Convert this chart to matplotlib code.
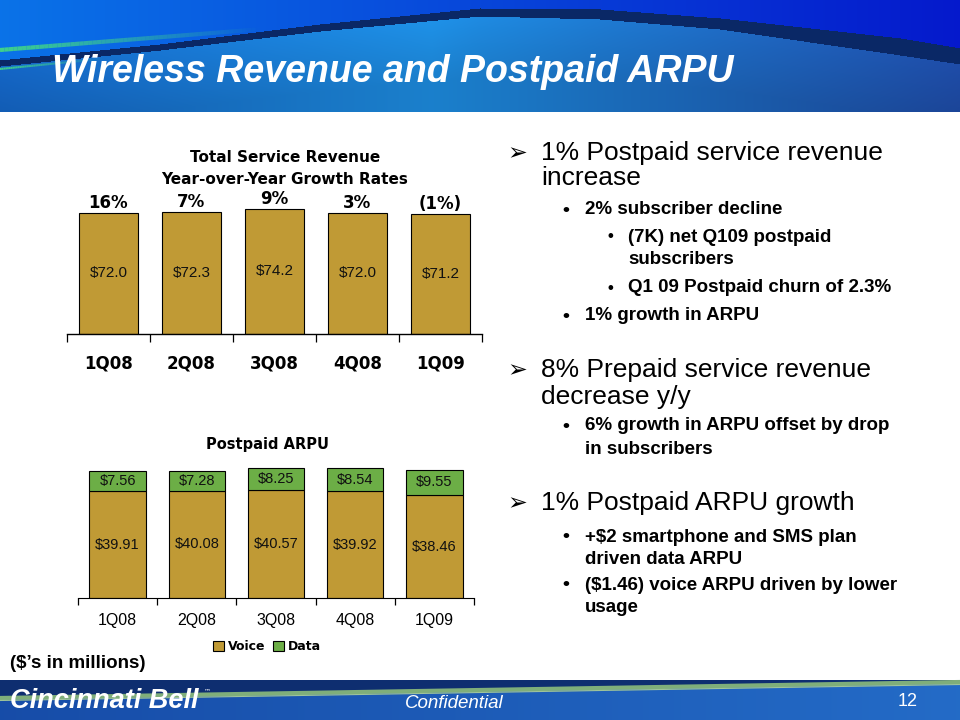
import matplotlib
matplotlib.use('Agg')
import matplotlib.pyplot as plt
import numpy as np

# chart data
quarters = ['1Q08', '2Q08', '3Q08', '4Q08', '1Q09']
service_revenue = [72.0, 72.3, 74.2, 72.0, 71.2]
growth_labels = ['16%', '7%', '9%', '3%', '(1%)']
voice_arpu = [39.91, 40.08, 40.57, 39.92, 38.46]
data_arpu = [7.56, 7.28, 8.25, 8.54, 9.55]

# right hand text: (level, text); 0/1/2 = bullet levels, 10/11/12 = wrapped lines
bullets = [
    (0, '1% Postpaid service revenue'),
    (10, 'increase'),
    (1, '2% subscriber decline'),
    (2, '(7K) net Q109 postpaid'),
    (12, 'subscribers'),
    (2, 'Q1 09 Postpaid churn of 2.3%'),
    (1, '1% growth in ARPU'),
    (0, '8% Prepaid service revenue'),
    (10, 'decrease y/y'),
    (1, '6% growth in ARPU offset by drop'),
    (11, 'in subscribers'),
    (0, '1% Postpaid ARPU growth'),
    (1, '+$2 smartphone and SMS plan'),
    (11, 'driven data ARPU'),
    (1, '($1.46) voice ARPU driven by lower'),
    (11, 'usage'),
]
bullet_y = [153, 178, 210, 237, 260, 288, 316, 370, 397, 426, 449, 503, 537, 560, 585, 608]

GOLD = '#c09a35'
GREEN = '#6cae46'
W, H = 960, 720


def px(l, t, r, b):
    return [l / W, 1 - b / H, (r - l) / W, (b - t) / H]


fig = plt.figure(figsize=(9.6, 7.2), dpi=100)
bg = fig.add_axes([0, 0, 1, 1], zorder=0)
bg.set_xlim(0, W)
bg.set_ylim(H, 0)
bg.axis('off')

# header background
hh = 112
xs = np.arange(W)
X, Y = np.meshgrid(xs, np.arange(hh))
top_edge = np.interp(xs, [0, 160, 320, 480, 600, 720, 900, 960], [60, 44, 24, 8, 9, 18, 38, 48])
bot_edge = np.interp(xs, [0, 160, 320, 480, 600, 720, 900, 960], [66, 50, 31, 16, 19, 29, 55, 64])
f = xs / (W - 1)
up = np.stack([np.interp(f, [0, 1], c) for c in ([0.04, 0.02], [0.45, 0.10], [0.91, 0.80])], axis=-1)
low = np.stack([np.interp(f, [0, 0.45, 1], c) for c in ([0.08, 0.12, 0.12], [0.40, 0.57, 0.30],
                                                         [0.78, 0.91, 0.66])], axis=-1)
img = np.where((Y < top_edge)[..., None], up[None, :, :], low[None, :, :])
shade = 1 - 0.12 * np.clip((Y - bot_edge) / 60, 0, 1)
img = img * shade[..., None]
band = (Y >= top_edge) & (Y <= bot_edge)
img[band] = [0.04, 0.16, 0.40]
bg.imshow(img, extent=(0, W, hh, 0), aspect='auto', zorder=0)
gx = np.linspace(0, 260, 60)
for i in range(len(gx) - 1):
    a = 1 - i / (len(gx) - 1)
    bg.plot(gx[i:i + 2], 50 - 0.08 * gx[i:i + 2], color='#3fd08c', lw=3, alpha=a, zorder=1,
            solid_capstyle='butt')
    bg.plot(gx[i:i + 2] * 0.4, 69 - 0.1 * gx[i:i + 2] * 0.4, color='#3fd08c', lw=1.5, alpha=a,
            zorder=1, solid_capstyle='butt')

bg.text(52, 72, 'Wireless Revenue and Postpaid ARPU', color='white', fontsize=27,
        fontweight='bold', fontstyle='italic', family='Liberation Sans', va='center', ha='left',
        zorder=2)

# footer
fh = np.linspace(0, 1, W)
foot = np.stack([np.interp(fh, [0, 1], c) for c in ([0.09, 0.14], [0.30, 0.42], [0.66, 0.78])],
                axis=-1)
bg.imshow(np.repeat(foot[None, :, :], 2, axis=0), extent=(0, W, H, 680), aspect='auto', zorder=0)
sx = np.array([0, 300, 600, 960])
bg.fill_between(sx, 680, np.interp(sx, [0, 960], [697, 681]), color='#0e2e70', zorder=1, lw=0)
bg.plot([0, 960], [698, 682], color='#7fae7a', lw=3, zorder=1)
bg.plot([0, 960], [700.5, 684.5], color='#9ec39a', lw=0.8, zorder=1)
bg.text(10, 701, 'Cincinnati Bell', color='white', fontsize=19.5, fontweight='bold',
        fontstyle='italic', family='Liberation Sans', va='center', zorder=2)
bg.text(204, 691, '\u2122', color='white', fontsize=5, va='center', zorder=2)
bg.text(405, 703, 'Confidential', color='white', fontsize=13.5, fontstyle='italic',
        family='Liberation Sans', va='center', zorder=2)
bg.text(898, 702, '12', color='white', fontsize=13, family='Liberation Sans', va='center',
        zorder=2)

bg.text(10, 663, '($\u2019s in millions)', fontsize=13.5, fontweight='bold',
        family='Liberation Sans', va='center', zorder=2)

# top chart: total service revenue
x = np.arange(len(quarters))
ax = fig.add_axes(px(67, 199, 482, 334), zorder=2)
ax.patch.set_alpha(0)
bars = ax.bar(x, service_revenue, width=0.71, color=GOLD, edgecolor='black', linewidth=0.8)
ax.bar_label(bars, labels=[f'${v:.1f}' for v in service_revenue], label_type='center',
             fontsize=11, family='Liberation Sans', color='#111111')
for xi, v, g in zip(x, service_revenue, growth_labels):
    ax.text(xi, v + 0.3, g, ha='center', va='bottom', fontsize=12, fontweight='bold',
            family='DejaVu Sans')
ax.set_xlim(-0.5, 4.5)
ax.set_ylim(0, 80)
ax.set_xticks(x)
ax.set_xticklabels(quarters, fontsize=12, fontweight='bold', family='DejaVu Sans')
ax.set_xticks(np.arange(-0.5, 5, 1), minor=True)
ax.tick_params(axis='x', which='major', length=0, pad=15)
ax.tick_params(axis='x', which='minor', length=6, width=0.9, direction='out')
ax.set_yticks([])
for s in ['left', 'right', 'top']:
    ax.spines[s].set_visible(False)
ax.spines['bottom'].set_linewidth(1.0)
bg.text(285, 157, 'Total Service Revenue', ha='center', va='center', fontsize=11,
        fontweight='bold', family='DejaVu Sans', zorder=2)
bg.text(285, 180, 'Year-over-Year Growth Rates', ha='center', va='center', fontsize=11,
        fontweight='bold', family='DejaVu Sans', zorder=2)

# bottom chart: postpaid ARPU
ax2 = fig.add_axes(px(78, 451, 474, 598), zorder=2)
ax2.patch.set_alpha(0)
vb = ax2.bar(x, voice_arpu, width=0.71, color=GOLD, edgecolor='black', linewidth=0.8,
             label='Voice')
db = ax2.bar(x, data_arpu, width=0.71, bottom=voice_arpu, color=GREEN, edgecolor='black',
             linewidth=0.8, label='Data')
ax2.bar_label(vb, labels=[f'${v:.2f}' for v in voice_arpu], label_type='center', fontsize=10.5,
              family='Liberation Sans', color='#111111')
ax2.bar_label(db, labels=[f'${v:.2f}' for v in data_arpu], label_type='center', fontsize=10.5,
              family='Liberation Sans', color='#111111')
ax2.set_xlim(-0.5, 4.5)
ax2.set_ylim(0, 55)
ax2.set_xticks(x)
ax2.set_xticklabels(quarters, fontsize=11.5, family='Liberation Sans')
ax2.set_xticks(np.arange(-0.5, 5, 1), minor=True)
ax2.tick_params(axis='x', which='major', length=0, pad=11)
ax2.tick_params(axis='x', which='minor', length=5, width=0.9, direction='out')
ax2.set_yticks([])
for s in ['left', 'right', 'top']:
    ax2.spines[s].set_visible(False)
ax2.legend(loc='center', bbox_to_anchor=(0.477, -0.33), ncol=2, frameon=False,
           prop={'family': 'DejaVu Sans', 'weight': 'bold', 'size': 9}, handlelength=0.9,
           handleheight=0.9, handletextpad=0.3, columnspacing=0.6)
bg.text(268, 445, 'Postpaid ARPU', ha='center', va='center', fontsize=10.5, fontweight='bold',
        family='DejaVu Sans', zorder=2)

# right hand bullet text
for (lvl, txt), y in zip(bullets, bullet_y):
    if lvl % 10 == 0:
        if lvl == 0:
            bg.text(517, y, '\u27a2', ha='center', va='center', fontsize=17, fontweight='bold',
                    family='DejaVu Sans', zorder=2)
        bg.text(541, y, txt, va='center', fontsize=19, family='Liberation Sans', zorder=2)
    elif lvl % 10 == 1:
        if lvl == 1:
            bg.text(566, y, '\u2022', ha='center', va='center', fontsize=14, fontweight='bold',
                    family='Liberation Sans', zorder=2)
        bg.text(585, y, txt, va='center', fontsize=13.5, fontweight='bold',
                family='Liberation Sans', zorder=2)
    else:
        if lvl == 2:
            bg.text(610, y, '\u2022', ha='center', va='center', fontsize=12, fontweight='bold',
                    family='Liberation Sans', zorder=2)
        bg.text(628, y, txt, va='center', fontsize=13.5, fontweight='bold',
                family='Liberation Sans', zorder=2)

fig.savefig('out.png', dpi=100)
